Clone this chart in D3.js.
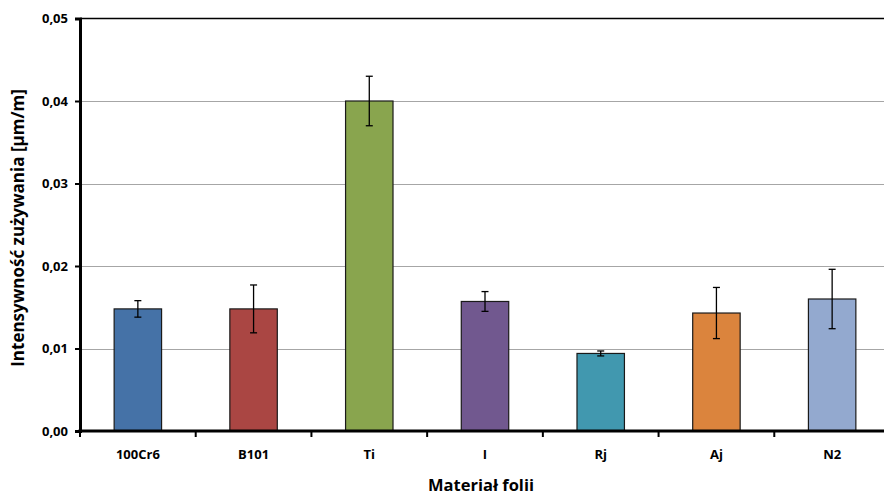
<!DOCTYPE html>
<html>
<head>
<meta charset="utf-8">
<script src="https://cdn.jsdelivr.net/npm/d3@7"></script>
<style>
  html, body { margin: 0; padding: 0; background: #fff; }
  svg { display: block; font-family: "Open Sans", Lato, sans-serif; font-weight: bold; }
</style>
</head>
<body>
<svg id="chart" width="884" height="497"></svg>
<script>
// Wear intensity per foil material, with standard deviations
const categories = ["100Cr6", "B101", "Ti", "I", "Rj", "Aj", "N2"];
const values = [0.0148, 0.0148, 0.0400, 0.0157, 0.0094, 0.0143, 0.0160];
const errors = [0.0010, 0.0029, 0.0030, 0.0012, 0.0003, 0.0031, 0.0036];
const colors = ["#4572A7", "#AA4643", "#89A54E", "#71588F", "#4198AF", "#DB843D", "#93A9CF"];
const yTicks = [0, 0.01, 0.02, 0.03, 0.04, 0.05];
const yTickLabels = ["0,00", "0,01", "0,02", "0,03", "0,04", "0,05"];

const svg = d3.select("#chart");
const plotLeft = 80, plotRight = 890, plotTop = 18.5, plotBottom = 431;
const fontFamily = "'Open Sans', Lato, sans-serif";

const x = d3.scaleBand().domain(categories).range([plotLeft, plotRight]).paddingInner(0.59).paddingOuter(0.295);
const y = d3.scaleLinear().domain([0, 0.05]).range([plotBottom, plotTop]);

// horizontal gridlines
svg.append("g").selectAll("line").data(yTicks.slice(1, -1)).join("line")
  .attr("x1", plotLeft).attr("x2", 884)
  .attr("y1", d => Math.round(y(d)) + 0.5).attr("y2", d => Math.round(y(d)) + 0.5)
  .attr("stroke", "#a6a6a6").attr("stroke-width", 1.2);

// top border of the plot area
svg.append("line").attr("x1", plotLeft).attr("x2", 884)
  .attr("y1", y(0.05)).attr("y2", y(0.05))
  .attr("stroke", "#000").attr("stroke-width", 1.5);

// bars
svg.append("g").selectAll("rect").data(categories).join("rect")
  .attr("x", d => x(d)).attr("width", x.bandwidth())
  .attr("y", (d, i) => y(values[i])).attr("height", (d, i) => y(0) - y(values[i]))
  .attr("fill", (d, i) => colors[i])
  .attr("stroke", "#1a1a1a").attr("stroke-width", 1.2);

// error bars
const eb = svg.append("g").attr("stroke", "#000").attr("stroke-width", 1.3);
categories.forEach((c, i) => {
  const cx = x(c) + x.bandwidth() / 2;
  const y1 = y(values[i] + errors[i]), y2 = y(values[i] - errors[i]);
  eb.append("line").attr("x1", cx).attr("x2", cx).attr("y1", y1).attr("y2", y2);
  eb.append("line").attr("x1", cx - 3.5).attr("x2", cx + 3.5).attr("y1", y1).attr("y2", y1);
  eb.append("line").attr("x1", cx - 3.5).attr("x2", cx + 3.5).attr("y1", y2).attr("y2", y2);
});

// y axis
const yAxis = svg.append("g").attr("transform", `translate(${plotLeft},0)`)
  .call(d3.axisLeft(y).tickValues(yTicks).tickFormat((d, i) => yTickLabels[i]).tickSize(5).tickPadding(7));
yAxis.select(".domain").attr("stroke", "#000").attr("stroke-width", 3);
yAxis.selectAll(".tick line").attr("stroke", "#000").attr("stroke-width", 2);
yAxis.selectAll("text").attr("font-size", 13).attr("font-family", fontFamily).attr("font-weight", "bold").attr("fill", "#000");

// x axis: ticks sit between categories
const step = x.step();
const xAxis = svg.append("g");
xAxis.append("line").attr("x1", plotLeft - 1.5).attr("x2", 884).attr("y1", plotBottom).attr("y2", plotBottom)
  .attr("stroke", "#000").attr("stroke-width", 3);
xAxis.selectAll("line.tk").data(d3.range(categories.length + 1)).join("line").attr("class", "tk")
  .attr("x1", i => plotLeft + i * step).attr("x2", i => plotLeft + i * step)
  .attr("y1", plotBottom).attr("y2", plotBottom + 6)
  .attr("stroke", "#000").attr("stroke-width", 2);
xAxis.selectAll("text").data(categories).join("text")
  .attr("x", d => x(d) + x.bandwidth() / 2).attr("y", 459)
  .attr("text-anchor", "middle").attr("font-size", 13).attr("fill", "#000")
  .text(d => d);

// axis titles
svg.append("text").attr("x", 481).attr("y", 491).attr("text-anchor", "middle")
  .attr("font-size", 16.5).attr("fill", "#000").text("Materiał folii");
svg.append("text").attr("transform", "translate(24,228) rotate(-90)").attr("text-anchor", "middle")
  .attr("font-size", 17).attr("fill", "#000").text("Intensywność zużywania [µm/m]");
</script>
</body>
</html>
